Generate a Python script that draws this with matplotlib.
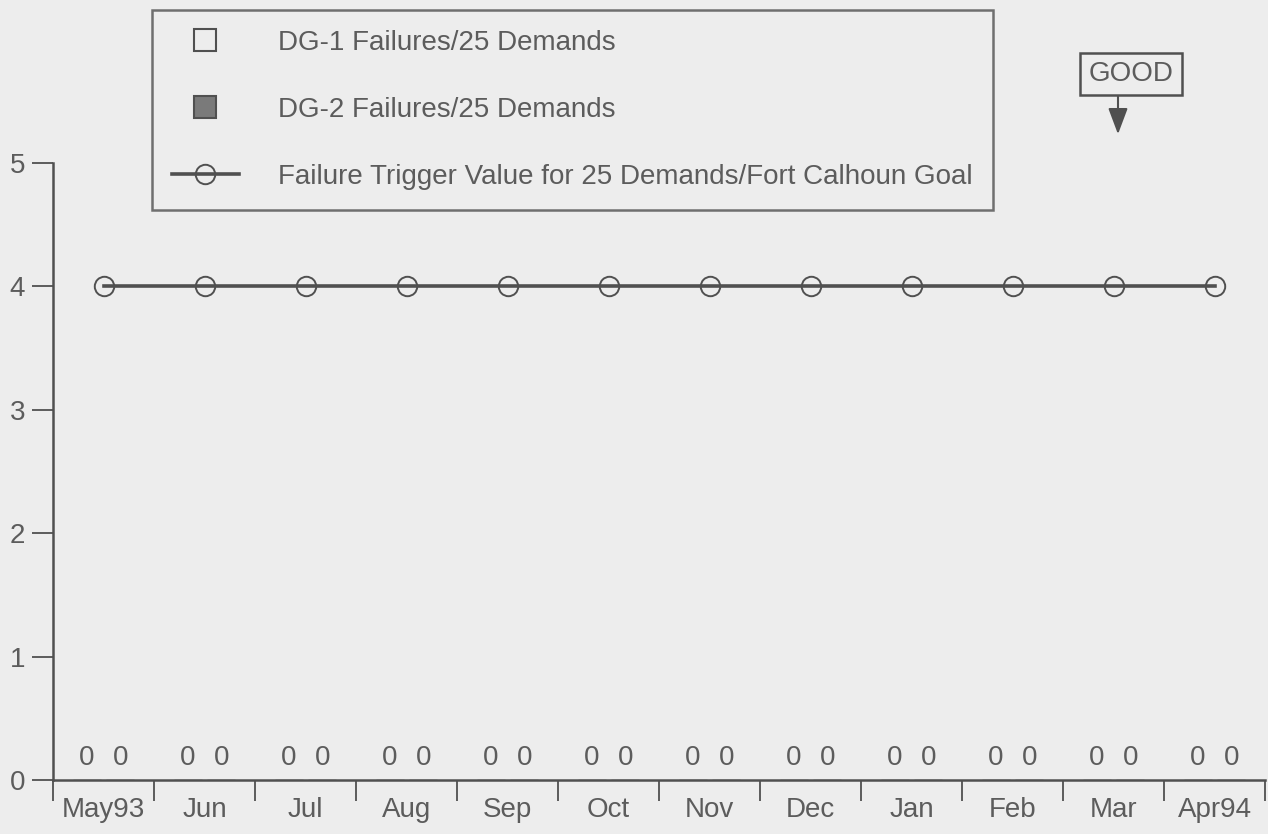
import matplotlib
matplotlib.use("Agg")
import matplotlib.pyplot as plt
import numpy as np
from matplotlib.lines import Line2D

plt.rcParams["font.family"] = ["Liberation Sans", "DejaVu Sans"]

months = ["May93", "Jun", "Jul", "Aug", "Sep", "Oct", "Nov", "Dec",
          "Jan", "Feb", "Mar", "Apr94"]
dg1_failures = [0, 0, 0, 0, 0, 0, 0, 0, 0, 0, 0, 0]
dg2_failures = [0, 0, 0, 0, 0, 0, 0, 0, 0, 0, 0, 0]
trigger_value = [4, 4, 4, 4, 4, 4, 4, 4, 4, 4, 4, 4]

BG = "#ededed"
INK = "#505050"
TXT = "#5c5c5c"
FS = 20

fig = plt.figure(figsize=(12.68, 8.34), dpi=100, facecolor=BG)
ax = fig.add_axes([53 / 1268, 1 - 780 / 834, (1265 - 53) / 1268, (780 - 163) / 834])
ax.set_facecolor(BG)

x = np.arange(len(months))
off = 0.165
ax.bar(x - off, dg1_failures, width=0.28, facecolor="none", edgecolor=INK)
ax.bar(x + off, dg2_failures, width=0.28, facecolor="#777777", edgecolor=INK)
for xi, a, b in zip(x, dg1_failures, dg2_failures):
    ax.text(xi - off, a + 0.07, f"{a}", ha="center", va="bottom", fontsize=FS, color=TXT)
    ax.text(xi + off, b + 0.07, f"{b}", ha="center", va="bottom", fontsize=FS, color=TXT)

ax.plot(x, trigger_value, color=INK, lw=2.6, marker="o", markersize=14,
        markerfacecolor="none", markeredgecolor=INK, markeredgewidth=1.4)

ax.set_xlim(-0.5, 11.5)
ax.set_ylim(0, 5)
ax.set_yticks([0, 1, 2, 3, 4, 5])
ax.set_xticks(x)
ax.set_xticklabels(months)
ax.set_xticks(np.arange(-0.5, 12, 1), minor=True)
ax.tick_params(axis="x", which="major", length=0, pad=12, labelsize=FS, labelcolor=TXT)
ax.tick_params(axis="x", which="minor", length=15, width=1.3, color=INK, direction="out")
ax.tick_params(axis="y", length=15, width=1.3, color=INK, pad=5, labelsize=FS, labelcolor=TXT)
for s in ["top", "right"]:
    ax.spines[s].set_visible(False)
for s in ["left", "bottom"]:
    ax.spines[s].set_color(INK)
    ax.spines[s].set_linewidth(1.8)

handles = [
    Line2D([], [], ls="none", marker="s", markersize=16, markerfacecolor="none",
           markeredgecolor=INK, markeredgewidth=1.5),
    Line2D([], [], ls="none", marker="s", markersize=16, markerfacecolor="#7a7a7a",
           markeredgecolor=INK, markeredgewidth=1.5),
    Line2D([], [], color=INK, lw=2.6, marker="o", markersize=14,
           markerfacecolor="none", markeredgecolor=INK, markeredgewidth=1.4),
]
labels = ["DG-1 Failures/25 Demands", "DG-2 Failures/25 Demands",
          "Failure Trigger Value for 25 Demands/Fort Calhoun Goal"]
leg = fig.legend(handles, labels, loc="upper left",
                 bbox_to_anchor=(152 / 1268, 1 - 10 / 834),
                 fontsize=FS, labelspacing=1.48, handlelength=2.4,
                 handletextpad=1.42, borderpad=0.72, borderaxespad=0,
                 frameon=True, fancybox=False, facecolor=BG, edgecolor=INK,
                 labelcolor=TXT)
leg.get_frame().set_linewidth(1.8)

fig.text(1131 / 1268, 1 - 74 / 834, "GOOD", ha="center", va="center", fontsize=FS,
         color=TXT, bbox=dict(boxstyle="square,pad=0.3", fc=BG, ec=INK, lw=1.8))
fig.add_artist(plt.Annotation("", xy=(1118 / 1268, 1 - 137 / 834),
                              xytext=(1118 / 1268, 1 - 91 / 834),
                              xycoords="figure fraction", textcoords="figure fraction",
                              arrowprops=dict(arrowstyle="-|>,head_width=0.6,head_length=1.6",
                                              color=INK, lw=1.5)))

fig.savefig("out.png", dpi=100, facecolor=BG)
